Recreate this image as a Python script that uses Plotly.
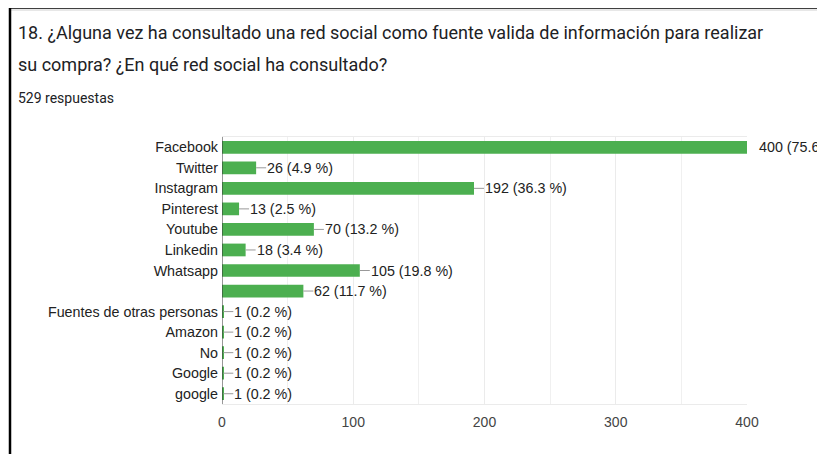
import plotly.graph_objects as go

categories = ["Facebook", "Twitter", "Instagram", "Pinterest", "Youtube", "Linkedin",
              "Whatsapp", "", "Fuentes de otras personas", "Amazon", "No", "Google", "google"]
counts = [400, 26, 192, 13, 70, 18, 105, 62, 1, 1, 1, 1, 1]
percents = [75.6, 4.9, 36.3, 2.5, 13.2, 3.4, 19.8, 11.7, 0.2, 0.2, 0.2, 0.2, 0.2]
x_ticks = [0, 100, 200, 300, 400]

title_l1 = "18. ¿Alguna vez ha consultado una red social como fuente valida de información para realizar"
title_l2 = "su compra? ¿En qué red social ha consultado?"
subtitle = "529 respuestas"

FONT = "Liberation Sans, Arial, sans-serif"
TITLE_FONT = "Roboto, Arial, sans-serif"
FS = 14.3

# page body has an 8px margin; plot area sits at page px (222..747, 137..404)
W, H = 817, 446
L, T, PW, PH = 214, 129, 525, 267


def px(X):
    return (X - 222) / PW


def py(Y):
    return 1 - (Y - 137) / PH


idx = list(range(len(categories)))
fig = go.Figure(go.Bar(
    x=counts, y=idx, orientation="h", width=0.62,
    marker=dict(color="#4caf50", line=dict(width=0)),
    hoverinfo="skip",
))

vmax = max(counts)
for i, (c, p) in enumerate(zip(counts, percents)):
    label = f"{c} ({p} %)"
    if c == vmax:
        fig.add_annotation(x=c, y=i, text=label, showarrow=False, xanchor="left",
                           xshift=10, font=dict(family=FONT, size=FS, color="#222"))
    else:
        fig.add_annotation(x=c, y=i, text=label, showarrow=True, arrowhead=0,
                           arrowwidth=1, arrowcolor="#999", ax=10, ay=0,
                           xanchor="left", standoff=0, startstandoff=0,
                           borderpad=0, font=dict(family=FONT, size=FS, color="#222"))

# Titles
fig.add_annotation(xref="paper", yref="paper", x=px(16), y=py(33),
                   text=title_l1, showarrow=False, xanchor="left", yanchor="middle",
                   font=dict(family=TITLE_FONT, size=18, color="#202124"))
fig.add_annotation(xref="paper", yref="paper", x=px(16), y=py(64),
                   text=title_l2, showarrow=False, xanchor="left", yanchor="middle",
                   font=dict(family=TITLE_FONT, size=18, color="#202124"))
fig.add_annotation(xref="paper", yref="paper", x=px(16), y=py(98),
                   text=subtitle, showarrow=False, xanchor="left", yanchor="middle",
                   font=dict(family=TITLE_FONT, size=14, color="#202124"))

# Frame (border lines)
fig.add_shape(type="line", xref="paper", yref="paper", x0=px(10), x1=px(840),
              y0=py(10), y1=py(10), line=dict(color="#d0d0d0", width=1))
fig.add_shape(type="line", xref="paper", yref="paper", x0=px(10), x1=px(840),
              y0=py(7.5), y1=py(7.5), line=dict(color="#000", width=2.5))
fig.add_shape(type="line", xref="paper", yref="paper", x0=px(10), x1=px(10),
              y0=py(7.5), y1=py(470), line=dict(color="#000", width=2.5))

fig.update_layout(
    width=W, height=H,
    margin=dict(l=L, r=W - L - PW, t=T, b=H - T - PH),
    paper_bgcolor="white", plot_bgcolor="white",
    showlegend=False,
    font=dict(family=FONT, size=FS, color="#222"),
    xaxis=dict(range=[0, 400], tickvals=x_ticks, showgrid=True, gridcolor="#ebebeb",
               minor=dict(dtick=50, showgrid=True, gridcolor="#f0f0f0"),
               zeroline=False, showline=True, linecolor="#ebebeb", mirror=True,
               tickfont=dict(family=FONT, size=14, color="#444"), ticks="",
               ticklabelstandoff=5, fixedrange=True),
    yaxis=dict(tickvals=idx, ticktext=categories, range=[12.5, -0.5],
               showgrid=False, zeroline=False, showline=False, ticks="",
               tickfont=dict(family=FONT, size=FS, color="#222"),
               ticklabelstandoff=3, fixedrange=True),
)
fig.add_shape(type="line", xref="x", yref="paper", x0=0, x1=0, y0=0, y1=1,
              line=dict(color="#333", width=1))

fig.write_html("out.html")
